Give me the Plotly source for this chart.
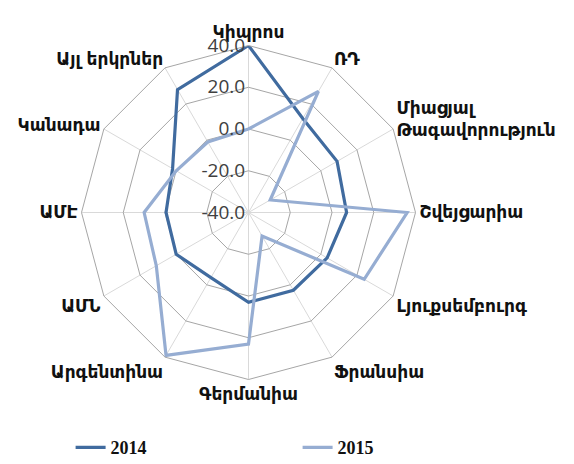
import plotly.graph_objects as go

# Countries around the radar, clockwise from the top
categories = [
    "Կիպրոս", "ՌԴ", "Միացյալ Թագավորություն", "Շվեյցարիա", "Լյուքսեմբուրգ",
    "Ֆրանսիա", "Գերմանիա", "Արգենտինա", "ԱՄՆ", "ԱՄԷ", "Կանադա", "Այլ երկրներ",
]
# Displayed labels (the long name wraps onto two lines)
category_labels = [
    "Կիպրոս", "ՌԴ", "Միացյալ<br>Թագավորություն", "Շվեյցարիա", "Լյուքսեմբուրգ",
    "Ֆրանսիա", "Գերմանիա", "Արգենտինա", "ԱՄՆ", "ԱՄԷ", "Կանադա", "Այլ երկրներ",
]

values_2014 = [40.0, 12.0, 9.0, 7.0, 3.5, 3.0, 3.0, -4.0, 0.0, -0.5, 2.0, 28.0]
values_2015 = [0.0, 27.0, -28.0, 36.0, 24.0, -27.0, 23.0, 39.0, 11.0, 10.0, 0.0, -1.0]

radial_ticks = [-40, -20, 0, 20, 40]
radial_ticktext = ["-40.0", "-20.0", "0.0", "20.0", "40.0"]

series = [
    ("2014", values_2014, "#406B9F"),
    ("2015", values_2015, "#96ADD2"),
]

fig = go.Figure()
for name, vals, color in series:
    fig.add_trace(go.Scatterpolar(
        r=vals + vals[:1],
        theta=categories + categories[:1],
        mode="lines",
        name=name,
        line=dict(color=color, width=3.2),
    ))

W, H = 574, 464
cx, cy, rad = 248.5, 212.5, 167

fig.update_layout(
    width=W, height=H,
    margin=dict(l=0, r=0, t=0, b=0, autoexpand=False),
    paper_bgcolor="white",
    plot_bgcolor="white",
    polar=dict(
        domain=dict(x=[(cx - rad) / W, (cx + rad) / W],
                    y=[1 - (cy + rad) / H, 1 - (cy - rad) / H]),
        bgcolor="white",
        gridshape="linear",
        radialaxis=dict(
            range=[-40, 40],
            tickmode="array",
            tickvals=radial_ticks,
            ticktext=radial_ticktext,
            angle=90,
            side="counterclockwise",
            tickangle=90,
            showline=False,
            ticks="",
            gridcolor="#A6A6A6",
            gridwidth=1,
            tickfont=dict(family="Open Sans, Liberation Sans, sans-serif", size=19, color="#404040"),
        ),
        angularaxis=dict(
            direction="clockwise",
            rotation=90,
            tickmode="array",
            tickvals=categories,
            ticktext=category_labels,
            showline=True,
            linecolor="#A6A6A6",
            linewidth=1,
            gridcolor="#D9D9D9",
            gridwidth=1,
            ticks="",
            tickfont=dict(family="DejaVu Sans", size=17, color="#111111", weight="bold"),
        ),
    ),
    legend=dict(
        orientation="h",
        x=0.123, xanchor="left",
        y=0.035, yanchor="middle",
        entrywidth=182,
        font=dict(family="Liberation Serif", size=18, color="#111111", weight="bold"),
    ),
)

fig.write_html("out.html")
